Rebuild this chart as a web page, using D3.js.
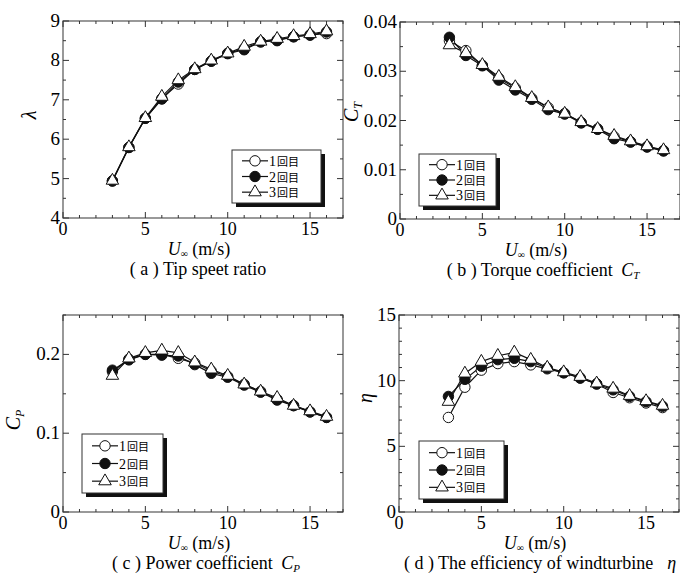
<!DOCTYPE html>
<html>
<head>
<meta charset="utf-8">
<script src="https://cdn.jsdelivr.net/npm/d3@7"></script>
<style>
  body { margin: 0; background: #fff; }
</style>
</head>
<body>
<script>
// data
var windSpeed = [3, 4, 5, 6, 7, 8, 9, 10, 11, 12, 13, 14, 15, 16];
var runNames = ["1回目", "2回目", "3回目"];

var lambda1 = [4.94, 5.79, 6.53, 7.03, 7.40, 7.77, 7.98, 8.18, 8.30, 8.47, 8.52, 8.60, 8.65, 8.68];
var lambda2 = [4.94, 5.79, 6.53, 7.02, 7.45, 7.77, 7.98, 8.17, 8.27, 8.47, 8.50, 8.60, 8.64, 8.72];
var lambda3 = [4.95, 5.80, 6.54, 7.08, 7.50, 7.78, 8.00, 8.18, 8.35, 8.48, 8.55, 8.62, 8.67, 8.74];

var ct1 = [0.0362, 0.0342, 0.0312, 0.0286, 0.0266, 0.0245, 0.0226, 0.0214, 0.0196, 0.0183, 0.0167, 0.0157, 0.0147, 0.0139];
var ct2 = [0.0369, 0.0332, 0.0311, 0.0282, 0.0262, 0.0243, 0.0222, 0.0213, 0.0195, 0.0182, 0.0163, 0.0156, 0.0146, 0.0138];
var ct3 = [0.0353, 0.0337, 0.0313, 0.0289, 0.0268, 0.0246, 0.0227, 0.0214, 0.0197, 0.0183, 0.0169, 0.0158, 0.0148, 0.0140];

var cp1 = [0.178, 0.194, 0.200, 0.200, 0.195, 0.189, 0.179, 0.172, 0.162, 0.153, 0.143, 0.135, 0.127, 0.120];
var cp2 = [0.180, 0.193, 0.200, 0.199, 0.198, 0.187, 0.176, 0.171, 0.161, 0.152, 0.142, 0.135, 0.127, 0.120];
var cp3 = [0.173, 0.195, 0.202, 0.205, 0.202, 0.190, 0.181, 0.173, 0.162, 0.153, 0.145, 0.135, 0.128, 0.121];

var eta1 = [7.2, 9.5, 10.8, 11.3, 11.45, 11.2, 10.9, 10.6, 10.2, 9.75, 9.1, 8.7, 8.3, 7.95];
var eta2 = [8.8, 10.1, 11.1, 11.6, 11.7, 11.45, 10.95, 10.6, 10.2, 9.75, 9.3, 8.8, 8.4, 8.05];
var eta3 = [8.4, 10.55, 11.45, 11.9, 12.15, 11.6, 11.0, 10.65, 10.3, 9.8, 9.4, 8.85, 8.45, 8.1];

var xTicks = [0, 5, 10, 15];

var SERIF = "'Liberation Serif', 'Times New Roman', serif";
var CJK = "'Noto Sans CJK JP', sans-serif";

var svg = d3.select("body").append("svg")
  .attr("width", 680)
  .attr("height", 574);

// one panel per chart
var panels = [
  {left: 63, top: 21, series: [lambda1, lambda2, lambda3], domain: [4, 9],
   ticks: [4, 5, 6, 7, 8, 9], minor: 0.5, fmt: d3.format("d"),
   ylab: "λ", ylabX: 36, ylabY: 115, legend: [169, 129, 89, 53], cap: "( a ) Tip speet ratio", capSub: null},
  {left: 400, top: 22, series: [ct1, ct2, ct3], domain: [0, 0.04],
   ticks: [0, 0.01, 0.02, 0.03, 0.04], minor: 0.005, fmt: function(d) { return d === 0 ? "0" : d3.format(".2f")(d); },
   ylab: "C", ylabSub: "T", ylabX: 358, ylabY: 112, legend: [19, 132, 77, 52], cap: "( b ) Torque coefficient ", capSub: "T"},
  {left: 63, top: 315, series: [cp1, cp2, cp3], domain: [0, 0.25],
   ticks: [0, 0.1, 0.2], minor: 0.05, fmt: function(d) { return d === 0 ? "0" : d3.format(".1f")(d); },
   ylab: "C", ylabSub: "P", ylabX: 20, ylabY: 420, legend: [19, 119, 81, 59], cap: "( c ) Power coefficient ", capSub: "P"},
  {left: 399, top: 315, series: [eta1, eta2, eta3], domain: [0, 15],
   ticks: [0, 5, 10, 15], minor: 1, fmt: d3.format("d"),
   ylab: "η", ylabX: 372, ylabY: 398, legend: [20, 126, 85, 58], cap: "( d ) The efficiency of windturbine", capSub: null}
];

var W = 280, H = 197;

function marker(sel, k) {
  if (k === 2) {
    sel.append("path")
      .attr("d", d3.symbol().type(d3.symbolTriangle).size(68)())
      .attr("fill", "#fff").attr("stroke", "#111").attr("stroke-width", 1);
  } else {
    sel.append("circle").attr("r", 5.2)
      .attr("fill", k === 1 ? "#111" : "#fff")
      .attr("stroke", "#111").attr("stroke-width", 1);
  }
}

panels.forEach(function(p, pi) {
  var g = svg.append("g").attr("transform", "translate(" + p.left + "," + p.top + ")");

  var x = d3.scaleLinear().domain([0, 17]).range([0, W]);
  var y = d3.scaleLinear().domain(p.domain).range([H, 0]);

  // frame
  g.append("rect").attr("width", W).attr("height", H)
    .attr("fill", "none").attr("stroke", "#555").attr("stroke-width", 1.2);

  // ticks, inward on all four sides
  var xMinor = d3.range(0, 17.01, 1);
  var yMinor = d3.range(p.domain[0], p.domain[1] + 1e-9, p.minor);
  xMinor.forEach(function(v) {
    var len = v % 5 === 0 ? 6 : 3;
    g.append("line").attr("x1", x(v)).attr("x2", x(v)).attr("y1", H).attr("y2", H - len).attr("stroke", "#333");
    g.append("line").attr("x1", x(v)).attr("x2", x(v)).attr("y1", 0).attr("y2", len).attr("stroke", "#333");
  });
  yMinor.forEach(function(v) {
    var major = p.ticks.some(function(t) { return Math.abs(t - v) < 1e-9; });
    var len = major ? 6 : 3;
    g.append("line").attr("y1", y(v)).attr("y2", y(v)).attr("x1", 0).attr("x2", len).attr("stroke", "#333");
    g.append("line").attr("y1", y(v)).attr("y2", y(v)).attr("x1", W).attr("x2", W - len).attr("stroke", "#333");
  });

  // tick labels
  g.selectAll(".xt").data(xTicks).enter().append("text")
    .attr("x", function(d) { return x(d); })
    .attr("y", H + 17)
    .attr("text-anchor", "middle")
    .attr("font-size", "18px")
    .style("font-family", SERIF)
    .text(function(d) { return d; });
  g.selectAll(".yt").data(p.ticks).enter().append("text")
    .attr("x", -3)
    .attr("y", function(d) { return y(d) + 6; })
    .attr("text-anchor", "end")
    .attr("font-size", "19px")
    .style("font-family", SERIF)
    .text(p.fmt);

  // lines and markers, run 1 first, run 3 on top
  var line = d3.line()
    .x(function(d, i) { return x(windSpeed[i]); })
    .y(function(d) { return y(d); });
  p.series.forEach(function(s) {
    g.append("path").datum(s).attr("d", line)
      .attr("fill", "none").attr("stroke", "#111").attr("stroke-width", 1.2);
  });
  p.series.forEach(function(s, k) {
    g.selectAll(".m" + k).data(s).enter().append("g")
      .attr("transform", function(d, i) { return "translate(" + x(windSpeed[i]) + "," + y(d) + ")"; })
      .call(marker, k);
  });

  // legend box with shadow
  var L = p.legend;
  var lg = g.append("g").attr("transform", "translate(" + L[0] + "," + L[1] + ")");
  lg.append("rect").attr("x", 4).attr("y", 4).attr("width", L[2]).attr("height", L[3]).attr("fill", "#111");
  lg.append("rect").attr("width", L[2]).attr("height", L[3]).attr("fill", "#fff").attr("stroke", "#333");
  var rowH = (L[3] - 6) / 3;
  runNames.forEach(function(name, k) {
    var ry = 3 + rowH * (k + 0.5);
    lg.append("line").attr("x1", 10).attr("x2", 36).attr("y1", ry).attr("y2", ry)
      .attr("stroke", "#111").attr("stroke-width", 1.2);
    lg.append("g").attr("transform", "translate(23," + ry + ")").call(marker, k);
    var t = lg.append("text").attr("x", 37).attr("y", ry + 5).attr("font-size", "14px")
      .style("font-family", SERIF);
    t.append("tspan").text(name.charAt(0));
    t.append("tspan").style("font-family", CJK).attr("font-size", "11px").attr("dx", 1).text(name.slice(1));
  });

  // y axis label
  var yl = g.append("text")
    .attr("transform", "translate(" + (p.ylabX - p.left) + "," + (p.ylabY - p.top) + ") rotate(-90)")
    .attr("text-anchor", "middle")
    .attr("font-size", "20px")
    .attr("font-style", "italic")
    .style("font-family", SERIF);
  yl.append("tspan").text(p.ylab);
  if (p.ylabSub) yl.append("tspan").attr("font-size", "12px").attr("dy", 4).text(p.ylabSub);

  // x axis label
  var xl = g.append("text")
    .attr("x", W / 2 - 4)
    .attr("y", H + 37)
    .attr("text-anchor", "middle")
    .attr("font-size", "18px")
    .style("font-family", SERIF);
  xl.append("tspan").attr("font-style", "italic").text("U");
  xl.append("tspan").attr("font-size", "10px").attr("dy", 2).text("∞");
  xl.append("tspan").attr("dy", -2).text(" (m/s)");

  // caption
  var cap = g.append("text")
    .attr("x", W / 2 - 5 + (pi === 3 ? 6 : 0) + (p.capSub ? 8 : 0))
    .attr("y", H + 57)
    .attr("text-anchor", "middle")
    .attr("font-size", "18px")
    .style("font-family", SERIF);
  cap.append("tspan").text(p.cap);
  if (p.capSub) {
    cap.append("tspan").attr("font-style", "italic").attr("dx", 4).text("C");
    cap.append("tspan").attr("font-style", "italic").attr("font-size", "11px").attr("dy", 3).text(p.capSub);
  }
  if (pi === 3) {
    cap.append("tspan").attr("font-style", "italic").attr("dx", 14).text("η");
  }
});
</script>
</body>
</html>
